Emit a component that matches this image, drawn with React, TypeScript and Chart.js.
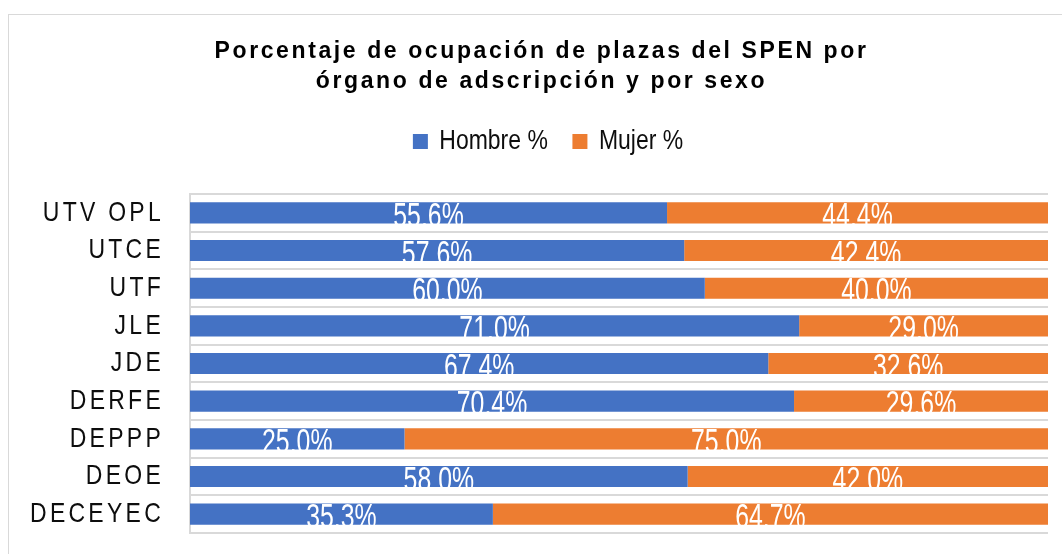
import React, { useEffect, useRef } from 'react';
import { Chart, registerables } from 'chart.js';

Chart.register(...registerables);

const categories = ['UTV OPL', 'UTCE', 'UTF', 'JLE', 'JDE', 'DERFE', 'DEPPP', 'DEOE', 'DECEYEC'];
const hombre = [55.6, 57.6, 60.0, 71.0, 67.4, 70.4, 25.0, 58.0, 35.3];
const mujer = [44.4, 42.4, 40.0, 29.0, 32.6, 29.6, 75.0, 42.0, 64.7];
const seriesNames = ['Hombre %', 'Mujer %'];
const titleLines = ['Porcentaje de ocupación de plazas del SPEN por', 'órgano de adscripción y por sexo'];

const SANS = "'Liberation Sans', Arial, sans-serif";
const NARROW_SCALE = 0.82; // Arial Narrow look: Liberation Sans condensed horizontally
const LABEL_SCALE = 0.71;

const textStylePlugin = {
  id: 'textStyle',
  beforeDraw(chart: any) {
    const wrap = (obj: any, key: string, setup: (ctx: CanvasRenderingContext2D, self: any) => () => void) => {
      if (!obj || obj['__wrapped_' + key]) return;
      const orig = obj[key];
      obj[key] = function (...args: any[]) {
        const ctx = chart.ctx;
        ctx.save();
        const teardown = setup(ctx, this);
        const r = orig.apply(this, args);
        teardown();
        ctx.restore();
        return r;
      };
      obj['__wrapped_' + key] = true;
    };
    wrap(chart.titleBlock, 'draw', (ctx) => {
      (ctx as any).letterSpacing = '2.6px';
      return () => {};
    });
    wrap(chart.scales.y, 'drawLabels', (ctx, self) => {
      const ax = self.right - self.options.ticks.padding;
      ctx.translate(ax, 0);
      ctx.scale(NARROW_SCALE, 1);
      ctx.translate(-ax, 0);
      (ctx as any).letterSpacing = '4px';
      const oldLeft = self.left;
      self.left = -1000; // widen the label clip so the condensed transform does not cut it
      return () => {
        self.left = oldLeft;
      };
    });
    wrap(chart.legend, 'draw', (ctx, self) => {
      const cx = (self.left + self.right) / 2;
      ctx.translate(cx + 6.5, 0);
      ctx.scale(NARROW_SCALE, 1);
      ctx.translate(-cx, 0);
      return () => {};
    });
  },
};

const barLabelPlugin = {
  id: 'barLabels',
  afterDatasetsDraw(chart: any) {
    const ctx = chart.ctx;
    chart.data.datasets.forEach((ds: any, di: number) => {
      const meta = chart.getDatasetMeta(di);
      meta.data.forEach((el: any, i: number) => {
        const { x, y, base } = el.getProps(['x', 'y', 'base'], true);
        const v = ds.data[i] as number;
        ctx.save();
        ctx.translate((x + base) / 2, y + 14);
        ctx.scale(LABEL_SCALE, 1);
        ctx.font = `35px ${SANS}`;
        ctx.fillStyle = '#ffffff';
        ctx.textAlign = 'center';
        ctx.textBaseline = 'alphabetic';
        ctx.fillText(v.toFixed(1) + '%', 0, 0);
        ctx.restore();
      });
    });
  },
};

export default function App() {
  const ref = useRef<HTMLCanvasElement | null>(null);

  useEffect(() => {
    if (!ref.current) return;
    const chart = new Chart(ref.current, {
      type: 'bar',
      data: {
        labels: categories,
        datasets: [
          {
            label: seriesNames[0],
            data: hombre,
            backgroundColor: '#4472C4',
            borderWidth: 0,
            barPercentage: 0.56,
            categoryPercentage: 1,
          },
          {
            label: seriesNames[1],
            data: mujer,
            backgroundColor: '#ED7D31',
            borderWidth: 0,
            barPercentage: 0.56,
            categoryPercentage: 1,
          },
        ],
      },
      options: {
        indexAxis: 'y',
        responsive: false,
        animation: false,
        layout: { padding: { left: 0, right: 0, top: 0, bottom: 21 } },
        scales: {
          x: {
            stacked: true,
            min: 0,
            max: 100,
            position: 'top',
            grid: { display: false },
            border: { display: false },
            ticks: { display: false },
            afterFit: (s: any) => {
              s.height = 28.6;
            },
          },
          y: {
            stacked: true,
            grid: { color: '#d9d9d9', lineWidth: 2, drawTicks: false, offset: true },
            border: { color: '#d9d9d9', width: 2 },
            ticks: { autoSkip: false, color: '#0d0d0d', padding: 26, font: { family: SANS, size: 28 } },
            afterFit: (s: any) => {
              s.width = 181;
              s.paddingTop = 0;
              s.paddingBottom = 0;
            },
          },
          yR: {
            type: 'linear',
            position: 'right',
            display: true,
            grid: { display: false },
            border: { display: false },
            ticks: { display: false },
            afterFit: (s: any) => {
              s.width = 26;
            },
          },
        } as any,
        plugins: {
          title: {
            display: true,
            text: titleLines,
            color: '#000000',
            font: { family: SANS, size: 23, weight: 'bold', lineHeight: 1.335 },
            padding: { top: 21, bottom: 0 },
          },
          legend: {
            display: true,
            position: 'top',
            labels: {
              color: '#0d0d0d',
              font: { family: SANS, size: 28 },
              boxWidth: 15 / NARROW_SCALE,
              boxHeight: 15,
              padding: 30,
            },
          },
          tooltip: { enabled: false },
        },
      },
      plugins: [textStylePlugin, barLabelPlugin],
    } as any);
    return () => chart.destroy();
  }, []);

  return (
    <div
      style={{
        position: 'absolute',
        left: 8,
        top: 14,
        width: 1054,
        height: 540,
        boxSizing: 'border-box',
        borderTop: '1px solid #d9d9d9',
        borderLeft: '1px solid #d9d9d9',
        overflow: 'hidden',
        background: '#ffffff',
      }}
    >
      <canvas ref={ref} width={1065} height={539} style={{ display: 'block', width: 1065, height: 539 }} />
    </div>
  );
}
